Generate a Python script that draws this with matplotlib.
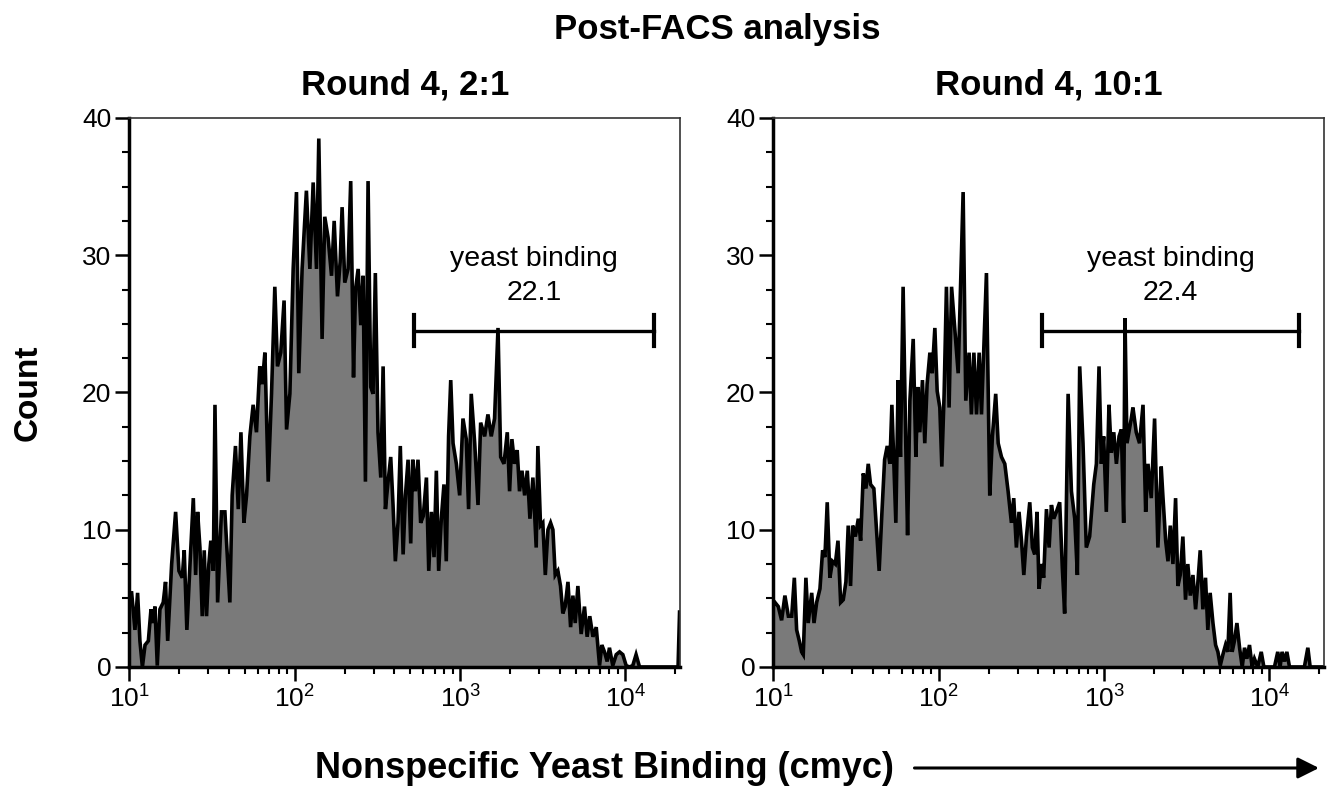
import numpy as np
import matplotlib
matplotlib.use("Agg")
import matplotlib.pyplot as plt
from matplotlib.ticker import LogLocator, LogFormatterSciNotation, MultipleLocator, NullFormatter

plt.rcParams['font.family'] = ['Liberation Sans', 'DejaVu Sans']
plt.rcParams['mathtext.fontset'] = 'custom'
plt.rcParams['mathtext.rm'] = 'Liberation Sans'
plt.rcParams['mathtext.it'] = 'Liberation Sans:italic'
plt.rcParams['mathtext.bf'] = 'Liberation Sans:bold'

# histogram traces: log10(cmyc fluorescence) and event count
left_logfl = [1.000, 1.013, 1.033, 1.049, 1.063, 1.078, 1.094, 1.114, 1.130, 1.144,
              1.154, 1.168, 1.184, 1.204, 1.218, 1.231, 1.255, 1.279, 1.299, 1.319,
              1.331, 1.347, 1.366, 1.386, 1.400, 1.412, 1.426, 1.440, 1.452, 1.466,
              1.480, 1.492, 1.507, 1.517, 1.533, 1.556, 1.577, 1.607, 1.621, 1.641,
              1.658, 1.674, 1.692, 1.708, 1.728, 1.748, 1.768, 1.788, 1.803, 1.819,
              1.839, 1.859, 1.879, 1.895, 1.915, 1.935, 1.950, 1.970, 1.990, 2.010,
              2.024, 2.044, 2.070, 2.091, 2.111, 2.131, 2.145, 2.165, 2.181, 2.201,
              2.222, 2.238, 2.258, 2.274, 2.286, 2.302, 2.322, 2.338, 2.355, 2.367,
              2.383, 2.399, 2.413, 2.427, 2.443, 2.459, 2.473, 2.487, 2.503, 2.520,
              2.534, 2.548, 2.564, 2.580, 2.594, 2.608, 2.624, 2.638, 2.655, 2.669,
              2.685, 2.701, 2.713, 2.729, 2.745, 2.761, 2.777, 2.796, 2.810, 2.826,
              2.842, 2.856, 2.870, 2.886, 2.902, 2.916, 2.930, 2.943, 2.957, 2.977,
              2.997, 3.017, 3.037, 3.051, 3.067, 3.088, 3.108, 3.124, 3.148, 3.168,
              3.188, 3.208, 3.229, 3.245, 3.265, 3.285, 3.299, 3.313, 3.329, 3.345,
              3.359, 3.374, 3.390, 3.406, 3.422, 3.440, 3.460, 3.470, 3.486, 3.500,
              3.515, 3.531, 3.547, 3.561, 3.575, 3.591, 3.607, 3.621, 3.635, 3.652,
              3.668, 3.682, 3.696, 3.712, 3.732, 3.752, 3.768, 3.784, 3.803, 3.823,
              3.843, 3.857, 3.873, 3.889, 3.903, 3.923, 3.944, 3.964, 3.984, 4.004,
              4.024, 4.044, 4.064, 4.085, 4.300, 4.318, 4.327]
left_count = [5.4, 5.4, 2.7, 5.4, 1.9, 0.0, 1.6, 1.9, 4.2, 3.2,
              4.4, 0.1, 4.2, 4.7, 6.2, 1.9, 7.5, 11.3, 7.0, 6.5,
              8.5, 2.7, 7.5, 12.3, 6.7, 11.3, 8.7, 3.7, 8.5, 3.7,
              7.5, 9.2, 7.0, 19.1, 4.7, 11.3, 11.3, 4.7, 12.5, 16.1,
              11.5, 17.1, 10.5, 12.5, 16.8, 19.1, 17.1, 21.9, 20.6, 22.9,
              13.5, 19.9, 27.7, 21.9, 22.9, 26.7, 17.3, 19.9, 29.0, 34.6,
              21.4, 29.0, 34.7, 29.0, 35.3, 29.0, 38.5, 23.9, 32.8, 31.3,
              28.5, 32.5, 27.0, 29.5, 33.5, 28.0, 29.0, 35.4, 21.1, 27.5,
              29.0, 24.9, 28.5, 13.5, 35.4, 20.4, 19.9, 28.7, 17.1, 13.8,
              21.9, 11.5, 13.5, 15.3, 11.8, 7.7, 10.5, 16.1, 8.2, 12.5,
              15.1, 9.0, 15.1, 12.8, 15.1, 10.5, 11.0, 13.8, 7.0, 11.3,
              8.0, 14.3, 7.0, 10.8, 13.3, 7.7, 16.8, 20.9, 16.3, 14.8,
              12.5, 18.1, 16.6, 11.5, 19.9, 16.3, 11.8, 17.8, 16.8, 18.4,
              16.8, 18.1, 24.7, 15.3, 14.8, 17.1, 12.8, 16.6, 14.8, 15.8,
              12.8, 14.3, 12.5, 14.3, 10.8, 13.8, 8.7, 16.1, 10.3, 10.5,
              6.7, 10.0, 10.5, 10.0, 6.7, 7.0, 5.9, 3.9, 4.4, 6.2,
              2.9, 5.2, 3.2, 5.9, 2.4, 4.4, 2.2, 3.7, 2.2, 2.9,
              0.1, 1.6, 1.1, 0.4, 1.4, 0.1, 0.9, 1.1, 0.9, 0.1,
              0.0, 0.1, 0.9, 0.0, 0.0, 0.0, 4.0]

right_logfl = [1.000, 1.009, 1.029, 1.049, 1.069, 1.090, 1.110, 1.126, 1.140, 1.156,
               1.170, 1.180, 1.196, 1.210, 1.231, 1.245, 1.261, 1.281, 1.297, 1.311,
               1.325, 1.341, 1.357, 1.374, 1.390, 1.406, 1.422, 1.438, 1.452, 1.466,
               1.479, 1.495, 1.513, 1.527, 1.543, 1.559, 1.573, 1.587, 1.607, 1.623,
               1.639, 1.656, 1.672, 1.688, 1.704, 1.716, 1.728, 1.740, 1.754, 1.768,
               1.784, 1.801, 1.811, 1.825, 1.845, 1.861, 1.873, 1.885, 1.901, 1.915,
               1.929, 1.946, 1.960, 1.976, 1.990, 2.006, 2.018, 2.032, 2.046, 2.062,
               2.077, 2.117, 2.147, 2.163, 2.183, 2.197, 2.212, 2.228, 2.244, 2.258,
               2.288, 2.308, 2.324, 2.344, 2.359, 2.379, 2.399, 2.419, 2.439, 2.453,
               2.469, 2.485, 2.500, 2.514, 2.530, 2.550, 2.566, 2.580, 2.594, 2.606,
               2.620, 2.634, 2.651, 2.667, 2.681, 2.695, 2.711, 2.731, 2.747, 2.761,
               2.782, 2.802, 2.822, 2.838, 2.852, 2.872, 2.892, 2.912, 2.937, 2.953,
               2.969, 2.983, 2.997, 3.013, 3.029, 3.043, 3.058, 3.074, 3.090, 3.104,
               3.118, 3.126, 3.138, 3.164, 3.174, 3.194, 3.214, 3.235, 3.251, 3.265,
               3.285, 3.305, 3.325, 3.345, 3.355, 3.372, 3.386, 3.400, 3.416, 3.432,
               3.446, 3.460, 3.476, 3.492, 3.506, 3.521, 3.537, 3.553, 3.567, 3.581,
               3.597, 3.613, 3.627, 3.641, 3.658, 3.674, 3.688, 3.702, 3.718, 3.734,
               3.748, 3.762, 3.774, 3.788, 3.803, 3.819, 3.835, 3.849, 3.863, 3.879,
               3.895, 3.909, 3.929, 3.950, 3.966, 4.030, 4.050, 4.064, 4.076, 4.091,
               4.105, 4.121, 4.211, 4.232, 4.246, 4.330]
right_count = [4.5, 4.7, 4.4, 3.4, 5.2, 3.7, 3.7, 6.5, 2.7, 1.9,
               1.1, 0.9, 6.5, 3.2, 5.4, 3.2, 4.7, 5.7, 8.5, 8.0,
               12.0, 6.5, 7.7, 7.5, 9.2, 4.7, 4.9, 6.2, 10.3, 5.9,
               10.3, 9.5, 10.8, 9.2, 14.1, 13.0, 14.8, 13.3, 13.0, 10.0,
               7.0, 11.3, 15.1, 16.1, 14.8, 19.1, 14.8, 10.5, 20.9, 15.3,
               27.7, 15.6, 9.6, 19.4, 23.9, 15.3, 20.4, 17.1, 20.9, 16.3,
               20.6, 22.9, 21.4, 24.7, 20.1, 18.9, 14.6, 19.9, 27.7, 18.9,
               27.7, 21.4, 34.6, 19.4, 22.9, 18.4, 22.9, 18.4, 22.9, 18.4,
               28.7, 12.5, 16.8, 19.9, 16.3, 15.3, 14.8, 12.8, 10.5, 12.3,
               8.7, 11.3, 9.2, 6.7, 9.5, 12.0, 8.7, 8.2, 11.3, 5.7,
               7.5, 6.5, 11.5, 8.7, 11.8, 10.8, 11.3, 12.0, 7.2, 3.9,
               19.9, 12.8, 10.8, 6.7, 21.9, 16.3, 8.7, 9.5, 13.3, 14.8,
               21.9, 14.8, 16.8, 11.3, 19.1, 15.6, 17.1, 14.8, 16.8, 17.3,
               10.5, 25.4, 16.3, 18.1, 18.9, 17.1, 16.3, 19.1, 11.3, 14.8,
               12.3, 18.1, 8.7, 14.6, 12.5, 9.2, 7.7, 10.3, 7.5, 12.3,
               5.9, 6.7, 9.5, 4.9, 7.5, 5.2, 6.7, 4.2, 6.2, 8.5,
               4.2, 6.5, 2.7, 5.4, 3.2, 1.6, 1.1, 0.1, 0.9, 1.6,
               1.1, 5.4, 1.1, 1.9, 3.2, 1.4, 0.0, 1.4, 0.6, 1.6,
               0.0, 0.6, 0.0, 1.1, 0.0, 0.0, 1.1, 0.0, 1.1, 0.4,
               1.1, 0.0, 0.0, 1.4, 0.0, 0.0]

panel_titles = ["Round 4, 2:1", "Round 4, 10:1"]
gate_labels = ["22.1", "22.4"]
# gate limits (log10 fluorescence) and bar height (count)
gate_lo = [2.721, 2.627]
gate_hi = [4.171, 4.177]
gate_y = 24.5

x_min = 10.0
x_max = 10 ** 4.33
fill_color = '#7a7a7a'


def draw_panel(ax, logfl, count, title, gate_label, lo, hi):
    x = 10 ** np.array(logfl)
    y = np.array(count)
    ax.fill_between(x, 0, y, color=fill_color, linewidth=0, zorder=1)
    ax.plot(x, y, color='black', linewidth=2.6, zorder=2, solid_joinstyle='miter')

    ax.set_xscale('log')
    ax.set_xlim(x_min, x_max)
    ax.set_ylim(0, 40)

    # gate bar with end caps
    ax.plot([10 ** lo, 10 ** hi], [gate_y, gate_y], color='black', linewidth=2.4, zorder=3)
    for g in (lo, hi):
        ax.plot([10 ** g, 10 ** g], [gate_y - 1.15, gate_y + 1.15], color='black',
                linewidth=3, zorder=3)
    mid = 10 ** ((lo + hi) / 2)
    ax.text(mid, 29.7, "yeast binding", ha='center', va='center', fontsize=20.5)
    ax.text(mid, 27.25, gate_label, ha='center', va='center', fontsize=20.5)

    ax.xaxis.set_major_locator(LogLocator(base=10, numticks=10))
    ax.xaxis.set_major_formatter(LogFormatterSciNotation())
    ax.xaxis.set_minor_locator(LogLocator(base=10, subs=np.arange(2, 10), numticks=20))
    ax.xaxis.set_minor_formatter(NullFormatter())
    ax.yaxis.set_major_locator(MultipleLocator(10))
    ax.yaxis.set_minor_locator(MultipleLocator(2.5))

    ax.tick_params(which='major', direction='out', length=10, width=1.8,
                   labelsize=19, pad=3)
    ax.tick_params(which='minor', direction='out', length=5, width=1.5)
    ax.tick_params(axis='x', which='major', pad=3)

    for side in ('left', 'bottom'):
        ax.spines[side].set_linewidth(2.5)
    for side in ('top', 'right'):
        ax.spines[side].set_linewidth(1.2)
        ax.spines[side].set_color('#333333')

    fig.text(ax.get_position().x0 + ax.get_position().width / 2, 1 - 85 / 791, title,
             ha='center', va='center', fontsize=25, fontweight='bold')


fig = plt.figure(figsize=(13.35, 7.91), dpi=100)
ax1 = fig.add_axes([0.0970, 0.1568, 0.4124, 0.6941])
ax2 = fig.add_axes([0.5794, 0.1568, 0.4124, 0.6941])

draw_panel(ax1, left_logfl, left_count, panel_titles[0], gate_labels[0], gate_lo[0], gate_hi[0])
draw_panel(ax2, right_logfl, right_count, panel_titles[1], gate_labels[1], gate_lo[1], gate_hi[1])

fig.text(0.537, 1 - 30 / 791, "Post-FACS analysis", ha='center', va='center',
         fontsize=25, fontweight='bold')
fig.text(0.021, 0.504, "Count", rotation=90, ha='center', va='center',
         fontsize=24, fontweight='bold')
fig.text(0.236, 1 - 768 / 791, "Nonspecific Yeast Binding (cmyc)", ha='left', va='center',
         fontsize=26, fontweight='bold')
ax1.annotate('', xy=(0.988, 1 - 768 / 791), xytext=(0.685, 1 - 768 / 791),
             xycoords='figure fraction', textcoords='figure fraction',
             arrowprops=dict(arrowstyle='-|>', color='black', lw=2.2, mutation_scale=32,
                             shrinkA=0, shrinkB=0))

plt.savefig('out.png', dpi=100)
print("Figure saved to: out.png")
